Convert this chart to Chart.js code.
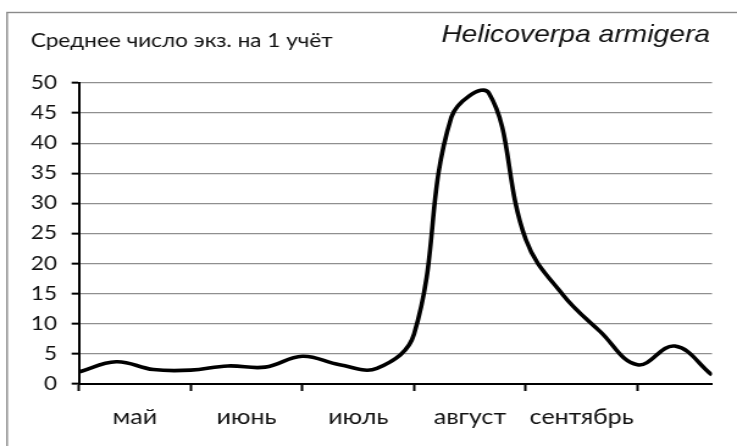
<!DOCTYPE html>
<html>
<head>
<meta charset="utf-8">
<script src="https://cdn.jsdelivr.net/npm/chart.js@4.4.1/dist/chart.umd.min.js"></script>
<style>
  html, body { margin: 0; padding: 0; background: #fff; overflow: hidden; }
  #wrap { width: 604px; height: 446px; transform: scaleX(1.2202); transform-origin: 0 0; }
  canvas { display: block; }
</style>
</head>
<body>
<div id="wrap"><canvas id="c" width="604" height="446"></canvas></div>
<script>
// ---- data ----
const decadeIndex = [0, 1, 2, 3, 4, 5, 6, 7, 8, 9, 10, 11, 12, 13, 14, 15, 16, 17];
const meanCount = [2.0, 3.7, 2.4, 2.3, 3.0, 2.8, 4.6, 3.2, 2.6, 8.3, 44.3, 48.4, 24.0, 14.8, 8.7, 3.2, 6.3, 1.5];
const months = ['май', 'июнь', 'июль', 'август', 'сентябрь'];
const monthPositions = [1.5, 4.5, 7.5, 10.5, 13.5];
const monthTickPositions = [0, 3, 6, 9, 12, 15];
const yTitle = 'Среднее число экз. на 1 учёт';
const speciesName = 'Helicoverpa armigera';

const FONT = "Lato, 'Open Sans', 'Noto Sans', sans-serif";
const TEXT = '#111';

const points = decadeIndex.map((x, i) => ({ x: x, y: meanCount[i] }));
const xTicks = monthTickPositions.concat(monthPositions).sort((a, b) => a - b);

const decor = {
  id: 'decor',
  beforeDraw(chart) {
    const ctx = chart.ctx;
    ctx.save();
    ctx.fillStyle = '#fff';
    ctx.fillRect(0, 0, chart.width, chart.height);
    ctx.strokeStyle = '#8a8a8a';
    ctx.lineWidth = 1.4;
    ctx.strokeRect(5.8, 12.5, 700, 600);
    ctx.restore();
  },
  afterDraw(chart) {
    const ctx = chart.ctx;
    ctx.save();
    ctx.fillStyle = TEXT;
    ctx.textBaseline = 'alphabetic';
    ctx.textAlign = 'left';
    ctx.font = "18.5px " + FONT;
    ctx.fillText(yTitle, 25.2, 46.5);
    ctx.textAlign = 'right';
    ctx.font = "italic 23.2px 'Liberation Sans', Arial, sans-serif";
    ctx.fillText(speciesName, 582, 41.5);
    ctx.restore();
  }
};

new Chart(document.getElementById('c'), {
  type: 'line',
  data: {
    datasets: [{
      data: points,
      borderColor: '#000',
      borderWidth: 3.6,
      pointRadius: 0,
      tension: 0.4,
      fill: false
    }]
  },
  options: {
    responsive: false,
    animation: false,
    devicePixelRatio: 1,
    layout: { padding: { top: 83, right: 20.5, bottom: 0, left: 0 } },
    plugins: { legend: { display: false }, tooltip: { enabled: false }, title: { display: false } },
    scales: {
      x: {
        type: 'linear',
        min: 0,
        max: 17,
        afterBuildTicks(scale) { scale.ticks = xTicks.map(v => ({ value: v })); },
        afterFit(scale) { scale.height = 62; },
        border: { display: true, color: '#000', width: 2 },
        grid: {
          drawOnChartArea: false,
          drawTicks: true,
          tickLength: 7,
          tickWidth: 2,
          tickColor: (c) => (monthTickPositions.includes(c.tick.value) ? '#000' : 'rgba(0,0,0,0)')
        },
        ticks: {
          autoSkip: false,
          maxRotation: 0,
          padding: 14,
          color: TEXT,
          font: { family: FONT, size: 20.5 },
          callback: (v) => { const i = monthPositions.indexOf(v); return i >= 0 ? months[i] : ''; }
        }
      },
      y: {
        min: 0,
        max: 50,
        afterFit(scale) { scale.width = 64.7; },
        border: { display: true, color: '#000', width: 2 },
        grid: {
          color: '#8f8f8f',
          lineWidth: 1.3,
          drawTicks: true,
          tickLength: 6,
          tickColor: '#000',
          tickWidth: 2
        },
        ticks: {
          stepSize: 5,
          padding: 12,
          color: TEXT,
          font: { family: FONT, size: 18.5 }
        }
      }
    }
  },
  plugins: [decor]
});
</script>
</body>
</html>
